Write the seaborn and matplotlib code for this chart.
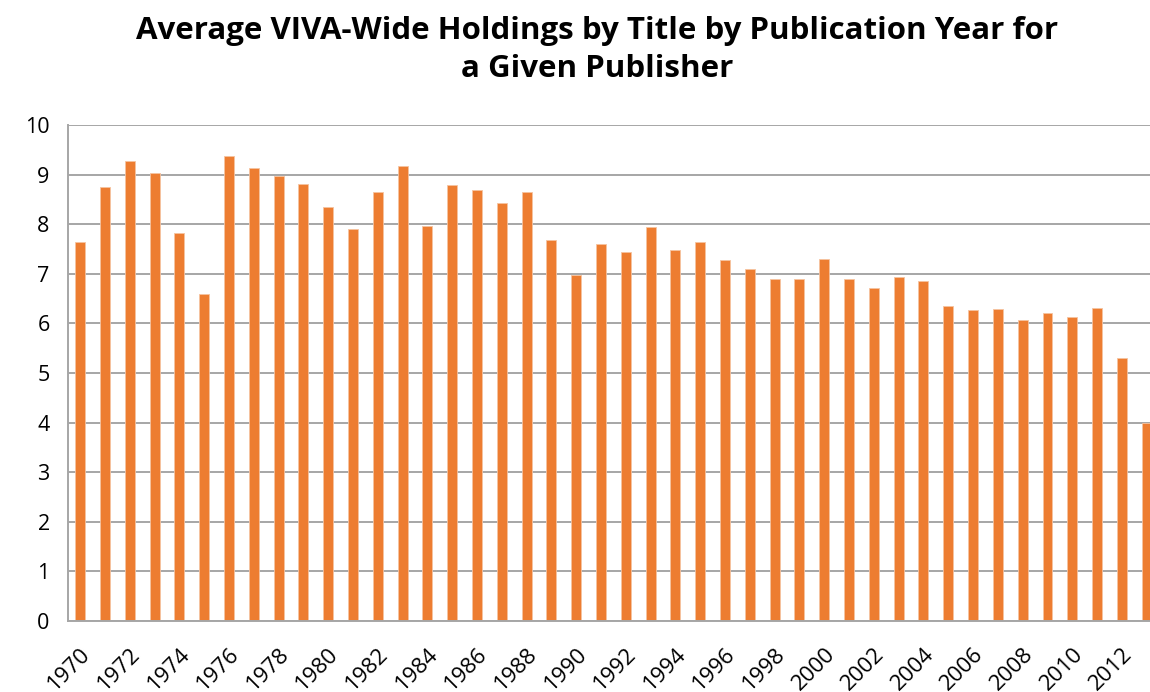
import matplotlib
matplotlib.use("Agg")
import matplotlib.pyplot as plt
import seaborn as sns
import numpy as np

years = list(range(1970, 2014))
avg_holdings = [7.64, 8.75, 9.28, 9.03, 7.83, 6.60, 9.38, 9.14, 8.97, 8.82,
                8.34, 7.90, 8.65, 9.17, 7.97, 8.78, 8.68, 8.42, 8.64, 7.68,
                6.98, 7.60, 7.44, 7.94, 7.48, 7.65, 7.27, 7.10, 6.89, 6.90,
                7.30, 6.90, 6.71, 6.94, 6.86, 6.35, 6.26, 6.30, 6.06, 6.20,
                6.12, 6.31, 5.30, 4.00]
year_labels = [str(y) if (y - 1970) % 2 == 0 else "" for y in years]

sns.set_style("white")
plt.rcParams["font.family"] = ["Open Sans", "DejaVu Sans"]
plt.rcParams["text.color"] = "black"
plt.rcParams["xtick.labelcolor"] = "black"
plt.rcParams["ytick.labelcolor"] = "black"

grid_col = "#a6a6a6"
fig = plt.figure(figsize=(11.5, 6.92), dpi=100)
ax = fig.add_axes([0.0589, 0.1026, 0.949, 0.7168])

sns.barplot(x=[str(y) for y in years], y=avg_holdings, color="#ED7D31",
            saturation=1, width=0.4, ax=ax, edgecolor="#f6c3a0", linewidth=0.6)

ax.set_ylim(0, 10)
ax.set_xlim(-0.5, len(years) - 0.5)
ax.set_yticks(range(0, 11))
ax.yaxis.grid(True, color=grid_col, linewidth=1.4)
ax.set_axisbelow(True)

ax.set_xticks(range(len(years)))
ax.set_xticklabels(year_labels, rotation=45, ha="right", rotation_mode="anchor",
                   fontsize=16)
ax.set_xticks(np.arange(-0.5, len(years), 1), minor=True)
ax.tick_params(axis="x", which="major", length=0, pad=16)
ax.tick_params(axis="x", which="minor", length=7, color=grid_col, width=1.2)
ax.tick_params(axis="y", length=7, color=grid_col, width=1.4, labelsize=15.5, pad=6)

for side in ["top", "right"]:
    ax.spines[side].set_visible(False)
for side in ["left", "bottom"]:
    ax.spines[side].set_color(grid_col)
    ax.spines[side].set_linewidth(1.4)
ax.set_xlabel("")
ax.set_ylabel("")

fig.text(0.5196, 0.928, "Average VIVA-Wide Holdings by Title by Publication Year for\na Given Publisher",
         ha="center", va="center", fontsize=22.5, fontweight="bold", linespacing=1.34)

fig.savefig("out.png", dpi=100)
